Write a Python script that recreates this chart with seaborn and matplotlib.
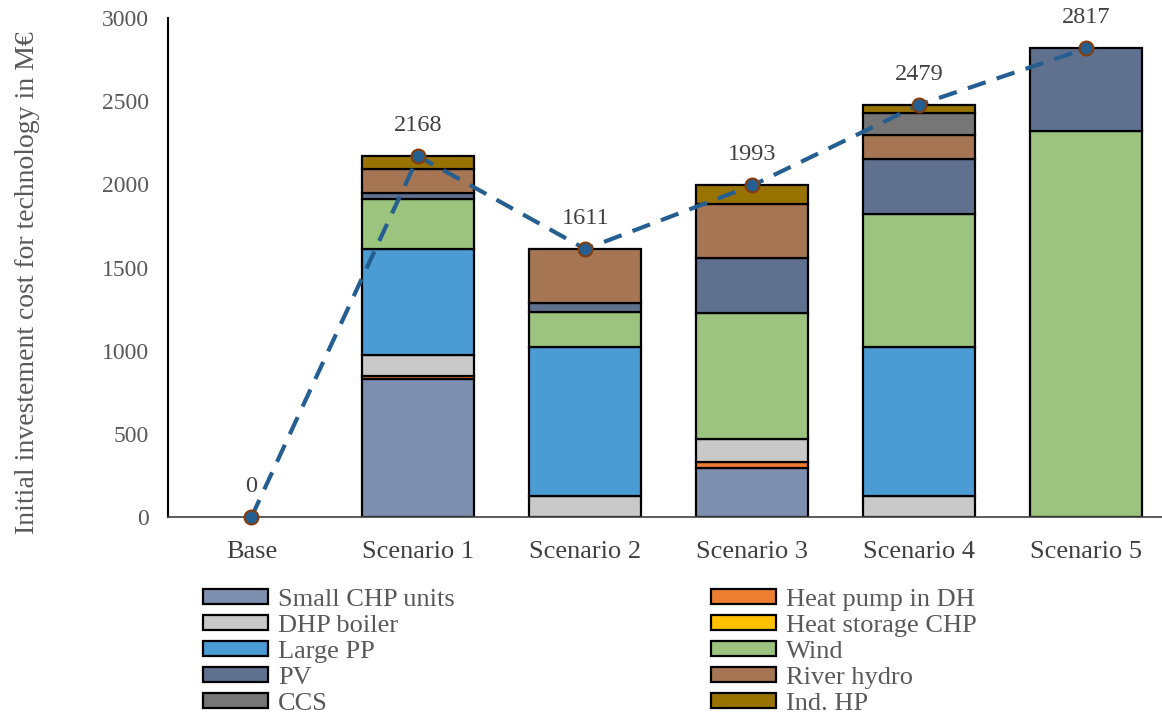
import numpy as np
import matplotlib
matplotlib.use("Agg")
import matplotlib.pyplot as plt
from matplotlib.patches import Patch
import seaborn as sns

scenarios = ["Base", "Scenario 1", "Scenario 2", "Scenario 3", "Scenario 4", "Scenario 5"]
technologies = ["Small CHP units", "Heat pump in DH", "DHP boiler", "Heat storage CHP",
                "Large PP", "Wind", "PV", "River hydro", "CCS", "Ind. HP"]

small_chp = [0, 832, 0, 293, 0, 0]
heat_pump = [0, 18, 0, 39, 0, 0]
dhp_boiler = [0, 125, 128, 135, 126, 0]
heat_storage = [0, 0, 0, 0, 0, 0]
large_pp = [0, 637, 896, 0, 896, 0]
wind = [0, 297, 210, 757, 797, 2320]
pv = [0, 38, 54, 334, 331, 497]
river_hydro = [0, 146, 323, 321, 148, 0]
ccs = [0, 0, 0, 0, 128, 0]
ind_hp = [0, 75, 0, 114, 53, 0]
totals = [0, 2168, 1611, 1993, 2479, 2817]

series = [small_chp, heat_pump, dhp_boiler, heat_storage, large_pp,
          wind, pv, river_hydro, ccs, ind_hp]
colors = ["#7F8FB0", "#ED7D31", "#C9C9C9", "#FFC000", "#4B9BD5",
          "#9CC47E", "#607190", "#A67654", "#767676", "#997300"]

sns.set_theme(style="white")
plt.rcParams["font.family"] = ["Liberation Serif", "DejaVu Serif"]

fig = plt.figure(figsize=(11.62, 7.19), dpi=100)
ax = fig.add_axes([168 / 1162, (719 - 517) / 719, (1169.5 - 168) / 1162, (517 - 18) / 719])

bottom = np.zeros(len(scenarios))
for name, vals, col in zip(technologies, series, colors):
    vals = np.array(vals, dtype=float)
    sns.barplot(x=scenarios, y=vals, order=scenarios, bottom=bottom, color=col,
                width=0.67, edgecolor="black", linewidth=1.6, saturation=1, ax=ax,
                errorbar=None)
    bottom = bottom + vals

for p in ax.patches:
    if p.get_height() == 0:
        p.set_linewidth(0)
        p.set_visible(False)

sns.pointplot(x=scenarios, y=totals, order=scenarios, color="#255E91",
              linestyle="--", linewidth=3, marker="o", markersize=10,
              markerfacecolor="#255E91", markeredgecolor="#843C0C",
              markeredgewidth=1.5, errorbar=None, ax=ax)
for ln in ax.lines:
    ln.set_dashes((4.5, 2.8))
    ln.set_zorder(5)
    ln.set_clip_on(False)

for i, t in enumerate(totals):
    ax.annotate(f"{t}", (i, t), xytext=(0, 22), textcoords="offset points",
                ha="center", va="center", fontsize=17.5, color="#404040")

ax.set_xlim(-0.5, 5.5)
ax.set_ylim(0, 3000)
ax.set_yticks([0, 500, 1000, 1500, 2000, 2500, 3000])
ax.tick_params(axis="y", labelsize=17, labelcolor="#595959", length=0, pad=14)
ax.tick_params(axis="x", labelsize=19, labelcolor="#404040", length=0, pad=17)
ax.set_xlabel("")
ax.set_ylabel("Initial investement cost for technology in M€", fontsize=20,
              color="#595959")
ax.yaxis.set_label_coords(-0.128, 0.469)
for s in ["top", "right"]:
    ax.spines[s].set_visible(False)
ax.spines["left"].set_color("black")
ax.spines["left"].set_linewidth(1.5)
ax.spines["bottom"].set_color("#404040")
ax.spines["bottom"].set_linewidth(1.2)
ax.grid(False)

order_idx = [0, 2, 4, 6, 8, 1, 3, 5, 7, 9]
handles = [Patch(facecolor=colors[i], edgecolor="black", linewidth=1.6, label=technologies[i])
           for i in order_idx]
fig.legend(handles=handles, ncol=2, loc="upper left", bbox_to_anchor=(203 / 1162, 1 - 589 / 719),
           frameon=False, fontsize=19, handlelength=2.46, handleheight=0.5,
           labelspacing=0.15, columnspacing=9.7, handletextpad=0.38, labelcolor="#595959",
           borderaxespad=0, borderpad=0)

fig.savefig("out.png", dpi=100)
